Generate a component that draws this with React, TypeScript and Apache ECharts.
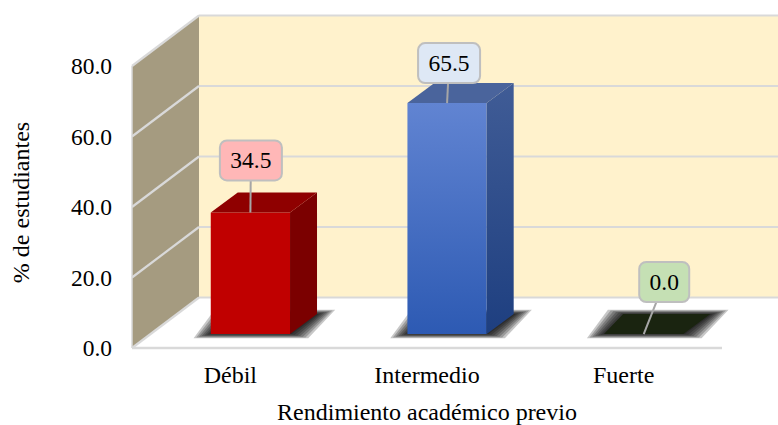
import React, { useEffect, useRef } from "react";
import * as echarts from "echarts";

const categories = ["Débil", "Intermedio", "Fuerte"];
const values = [34.5, 65.5, 0.0];
const yTicks = [0, 20, 40, 60, 80];
const xTitle = "Rendimiento académico previo";
const yTitle = "% de estudiantes";

const FONT = "Liberation Serif";
const WALL_DX = 67;
const WALL_DY = -50.5;
const BAR_FRONT = 0.277; // depth fraction of the bar's front plane
const BAR_SHIFT_X = WALL_DX * BAR_FRONT + 1.5;
const BAR_SHIFT_Y = WALL_DY * BAR_FRONT;
const BAR_DX = 27;
const BAR_DY = -20;
const LINE = "#d9d9d9";
const SHADOW_LAYERS = [6, 5, 4, 3, 2, 1, 0];

const grad = (a: string, b: string) =>
  new echarts.graphic.LinearGradient(0, 0, 0, 1, [
    { offset: 0, color: a },
    { offset: 1, color: b },
  ]);

const barStyles = [
  { front: "#c00000", top: "#8f0000", side: "#7b0000", box: "#ffb7b7", off: [0.5, -52], boxW: 62 },
  { front: grad("#6184d2", "#2d5ab3"), top: "#4a649c", side: grad("#405c96", "#1e3f80"), box: "#dee8f5", off: [2, -40], boxW: 62 },
  { front: "#1a2410", top: "#1a2410", side: "#1a2410", box: "#c5e0b4", off: [20.5, -52], boxW: 50 },
];

function renderWalls(params: any, api: any) {
  const cs = params.coordSys;
  const left = cs.x;
  const right = cs.x + cs.width;
  const y0 = api.coord([0, 0])[1];
  const yTop = api.coord([0, yTicks[yTicks.length - 1]])[1];
  const poly = (points: number[][], fill: string) => ({ type: "polygon", shape: { points }, style: { fill, stroke: "none" } });
  const line = (a: number[], b: number[], w = 2.2) => ({
    type: "line",
    shape: { x1: a[0], y1: a[1], x2: b[0], y2: b[1] },
    style: { stroke: LINE, lineWidth: w, fill: "none" },
  });
  const children: any[] = [
    poly([[left + WALL_DX, yTop + WALL_DY], [right + WALL_DX, yTop + WALL_DY], [right + WALL_DX, y0 + WALL_DY], [left + WALL_DX, y0 + WALL_DY]], "#fff2cc"),
    poly([[left, yTop], [left + WALL_DX, yTop + WALL_DY], [left + WALL_DX, y0 + WALL_DY], [left, y0]], "#a59b80"),
  ];
  yTicks.forEach((t) => {
    const y = api.coord([0, t])[1];
    children.push(line([left, y], [left + WALL_DX, y + WALL_DY]));
    children.push(line([left + WALL_DX, y + WALL_DY], [right + WALL_DX, y + WALL_DY]));
  });
  children.push(line([left, yTop], [left, y0], 1.5));
  children.push(line([left, y0], [right, y0], 2.5));
  return { type: "group", children };
}

function renderBar(params: any, api: any) {
  const i = api.value(0);
  const v = api.value(1);
  const s = barStyles[i];
  const w = api.size([1, 0])[0] * 0.403;
  const c = api.coord([i, 0]);
  const t = api.coord([i, v]);
  const xl = c[0] - w / 2 + BAR_SHIFT_X;
  const xr = xl + w;
  const yb = c[1] + BAR_SHIFT_Y;
  const yt = t[1] + BAR_SHIFT_Y;
  const poly = (points: number[][], fill: any, extra: any = {}) => ({
    type: "polygon",
    shape: { points },
    style: { fill, stroke: "none", ...extra },
  });
  const children: any[] = SHADOW_LAYERS.map((e) => {
    const dx = 2.7 * e;
    const dy = 0.7 * e;
    return poly(
      [[xl - 1 - dx, yb + dy], [xr + 2 + dx, yb + dy], [xr + BAR_DX + 2 + dx, yb + BAR_DY - dy], [xl + BAR_DX - 7 - dx, yb + BAR_DY - dy]],
      "rgba(0,0,0,0.22)"
    );
  });
  if (v > 0) {
    children.push(poly([[xl, yt], [xr, yt], [xr, yb], [xl, yb]], s.front));
    children.push(poly([[xr, yt], [xr + BAR_DX, yt + BAR_DY], [xr + BAR_DX, yb + BAR_DY], [xr, yb]], s.side));
    children.push(poly([[xl, yt], [xl + BAR_DX, yt + BAR_DY], [xr + BAR_DX, yt + BAR_DY], [xr, yt]], s.top));
  } else {
    children.push(poly([[xl, yt], [xr, yt], [xr + BAR_DX, yt + BAR_DY], [xl + BAR_DX - 8, yt + BAR_DY]], s.top));
  }
  const cx = (xl + xr) / 2;
  const bx = cx + s.off[0];
  const by = yt + s.off[1];
  children.push({
    type: "line",
    shape: { x1: bx, y1: by, x2: cx, y2: yt },
    style: { stroke: "#a6a6a6", lineWidth: 2, fill: "none" },
  });
  children.push({
    type: "rect",
    shape: { x: bx - s.boxW / 2, y: by - 20, width: s.boxW, height: 40, r: 7 },
    style: { fill: s.box, stroke: "#bfbfbf", lineWidth: 2 },
  });
  children.push({
    type: "text",
    style: {
      x: bx,
      y: by,
      text: v.toFixed(1),
      fill: "#000",
      font: `23.5px "${FONT}"`,
      align: "center",
      verticalAlign: "middle",
    },
  });
  return { type: "group", children };
}

export default function App() {
  const ref = useRef<HTMLDivElement>(null);
  useEffect(() => {
    const chart = echarts.init(ref.current!, undefined, { renderer: "svg" });
    chart.setOption({
      animation: false,
      backgroundColor: "#ffffff",
      grid: { left: 132, top: 66, width: 590, height: 282, containLabel: false, outerBoundsMode: "none" },
      xAxis: {
        type: "category",
        data: categories,
        name: xTitle,
        nameLocation: "middle",
        nameGap: 52,
        nameTextStyle: { fontFamily: FONT, fontSize: 24, color: "#000" },
        axisLine: { show: false },
        axisTick: { show: false },
        axisLabel: { fontFamily: FONT, fontSize: 24, color: "#000", margin: 15 },
      },
      yAxis: {
        type: "value",
        min: 0,
        max: 80,
        interval: 20,
        name: yTitle,
        nameLocation: "middle",
        nameGap: 99,
        nameTextStyle: { fontFamily: FONT, fontSize: 24, color: "#000", padding: [0, 0, 0, 9] },
        axisLine: { show: false },
        axisTick: { show: false },
        splitLine: { show: false },
        axisLabel: { fontFamily: FONT, fontSize: 23.5, color: "#000", margin: 20, formatter: (v: number) => v.toFixed(1) },
      },
      series: [
        { type: "custom", clip: false, z: 1, silent: true, renderItem: renderWalls, data: [[0, 0]], encode: { x: 0, y: 1 } },
        {
          type: "custom",
          clip: false,
          z: 2,
          silent: true,
          renderItem: renderBar,
          data: values.map((v, i) => [i, v]),
          encode: { x: 0, y: 1 },
        },
      ],
    });
    return () => chart.dispose();
  }, []);
  return <div ref={ref} style={{ position: "fixed", left: 0, top: 0, width: 778, height: 425 }} />;
}
